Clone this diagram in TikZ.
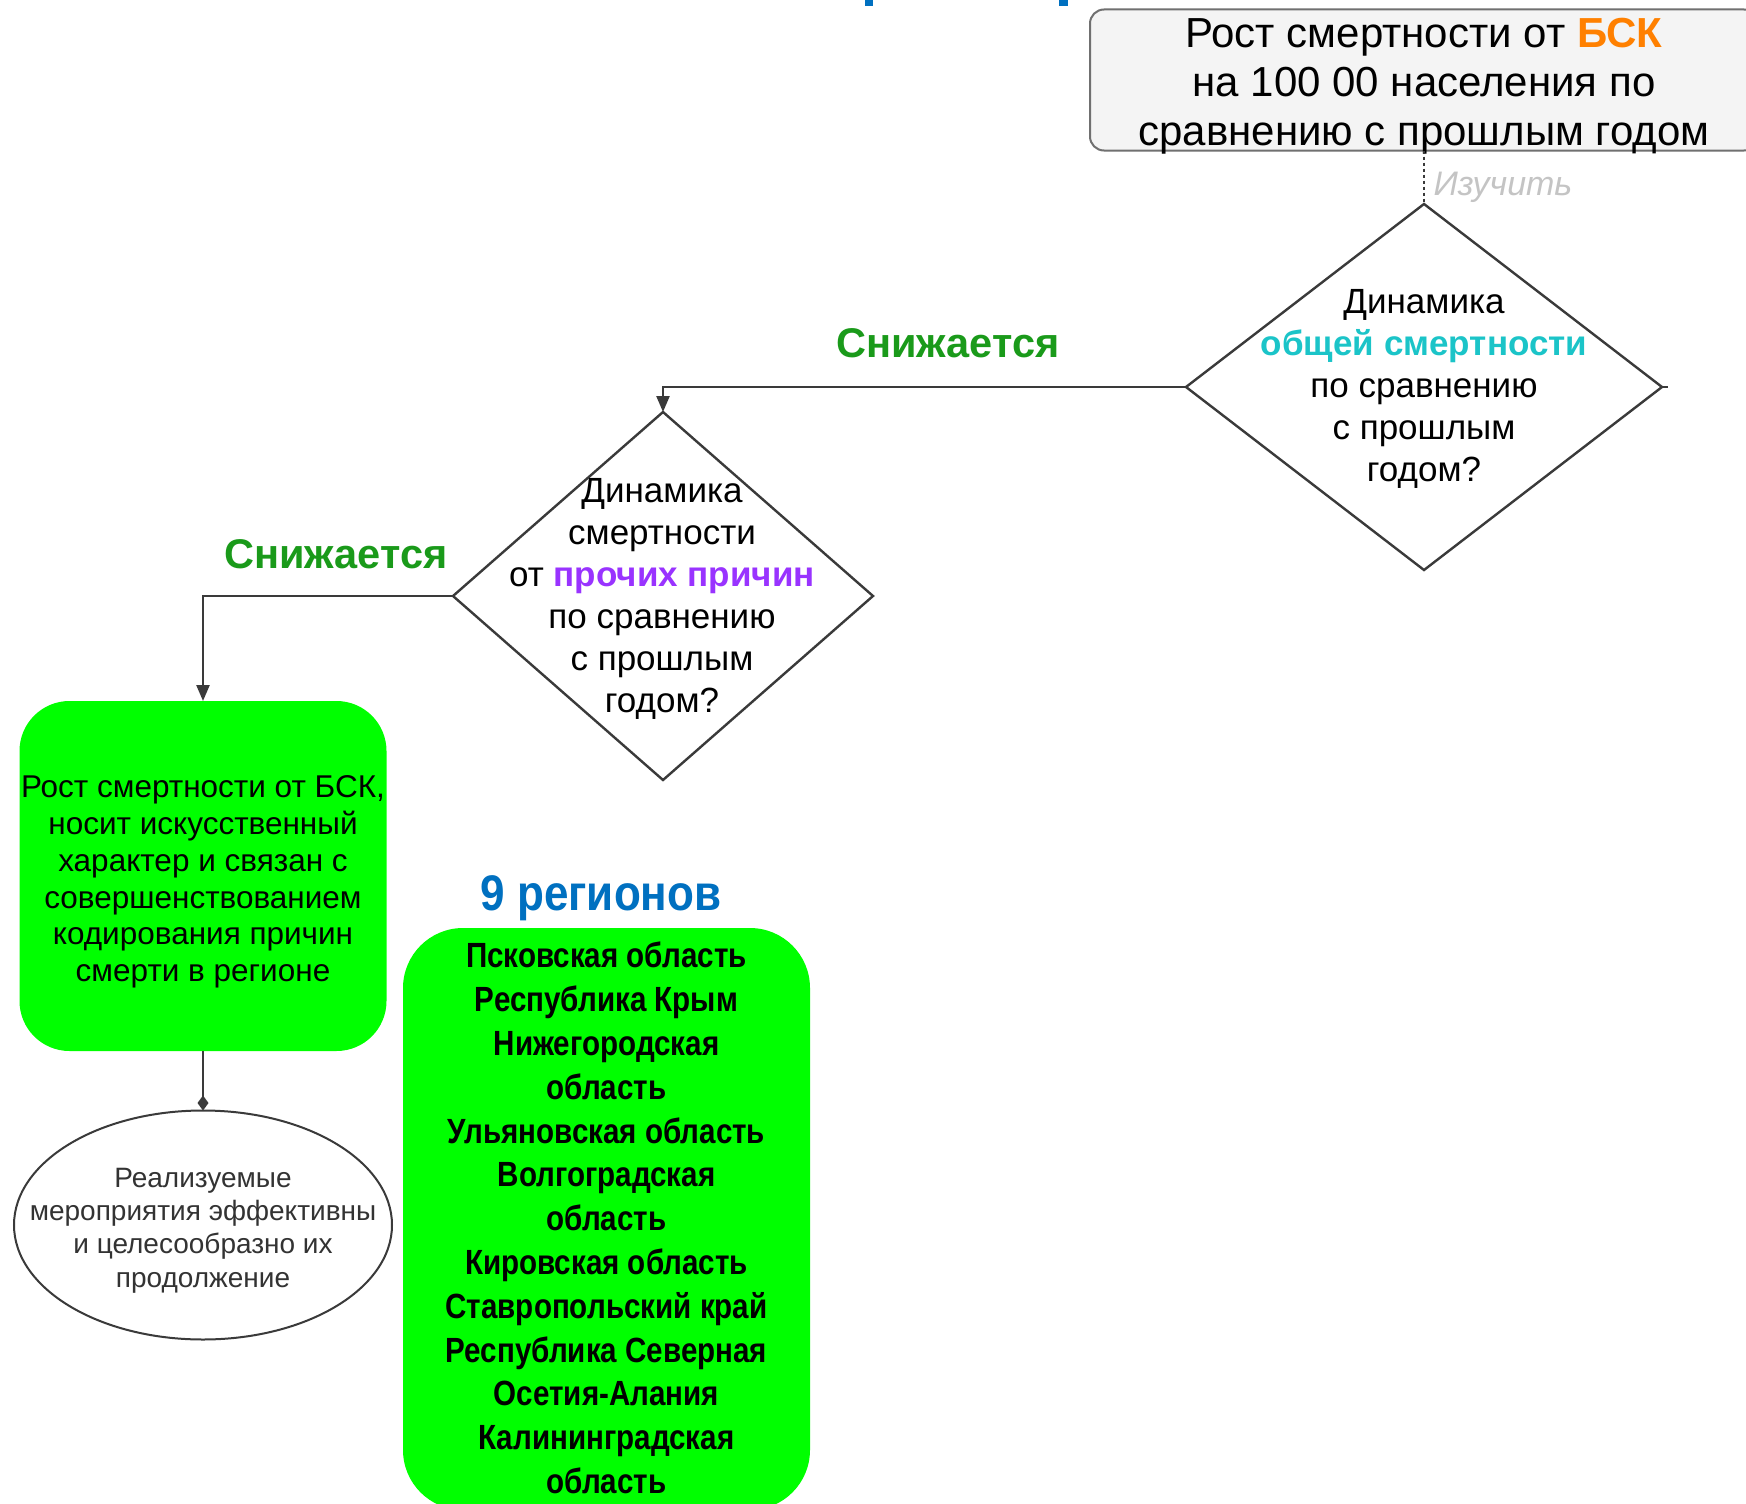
\documentclass[tikz,border=0pt]{standalone}
\usepackage{fontspec}
\setmainfont{Liberation Sans}
\newfontfamily\narrowsans[FakeStretch=0.845]{Liberation Sans}
\newfontfamily\titlesans[FakeStretch=0.88]{Liberation Sans}
\usetikzlibrary{shapes.geometric,arrows.meta,calc}
\definecolor{lblgreen}{HTML}{1A9A1A}
\definecolor{bskorange}{HTML}{FF8000}
\definecolor{obcyan}{HTML}{1BC4C8}
\definecolor{prpurple}{HTML}{9933FF}
\definecolor{regblue}{HTML}{0070C0}
\definecolor{brightgreen}{HTML}{00FF00}
\definecolor{boxgray}{HTML}{F4F4F4}
\definecolor{boxborder}{HTML}{707070}
\definecolor{studygray}{HTML}{C4C4C4}
\definecolor{linegray}{HTML}{3A3A3A}
\begin{document}
\begin{tikzpicture}[x=1pt,y=-1pt,
  conn/.style={draw=linegray, line width=2.4pt},
  arr/.style={conn, -{Triangle[length=16pt,width=13pt]}},
  dtip/.style={conn, -{Diamond[length=15pt,width=11pt]}},
  dia/.style={diamond, draw=linegray, line width=2.4pt, inner sep=0pt, outer sep=0pt, fill=white},
  qtext/.style={align=center, font=\fontsize{35}{42}\selectfont, inner sep=0pt},
  yeslabel/.style={text=lblgreen, font=\fontsize{41.5}{44}\selectfont\bfseries, inner sep=0pt},
  greenbox/.style={fill=brightgreen, draw=none, inner sep=0pt, outer sep=0pt}
]
\useasboundingbox (0,0) rectangle (1746,1504);
\fill[white] (0,0) rectangle (1746,1504);

% fragments of a title above the picture
\fill[regblue] (865,0) rectangle (873,6);
\fill[regblue] (1059,0) rectangle (1068,6);

% top box
\node[draw=boxborder, fill=boxgray, rounded corners=14pt, line width=2pt,
      minimum width=668pt, minimum height=141pt, inner sep=0pt, outer sep=0pt] (top) at (1424,80) {};
\node[align=center, font=\fontsize{42}{49}\selectfont, inner sep=0pt] (toptext) at (1424,86)
  {Рост смертности от \textcolor{bskorange}{\bfseries БСК}\\на 100 00 населения по\\сравнению с прошлым годом};

% diamond 1
\node[dia, minimum width=476pt, minimum height=366pt] (d1) at (1424,387) {};
\node[qtext] (d1t) at (1424,388.5)
  {Динамика\\\textcolor{obcyan}{\bfseries общей смертности}\\по сравнению\\с прошлым\\годом?};
\coordinate (d1stub) at ($(d1.east)+(6,0)$);

% dashed connector
\draw[draw=linegray, line width=2pt, dash pattern=on 3pt off 3pt] (top.south) -- (d1.north);
\node[text=studygray, font=\fontsize{34}{40}\selectfont\itshape, inner sep=0pt] (study) at (1503,187) {Изучить};

% diamond 2
\node[dia, minimum width=420pt, minimum height=368pt] (d2) at (663,596) {};
\node[qtext] (d2t) at (662,599)
  {Динамика\\смертности\\от \textcolor{prpurple}{\bfseries прочих причин}\\по сравнению\\с прошлым\\годом?};

% green box 1
\node[greenbox, rounded corners=50pt, minimum width=367pt, minimum height=350pt] (g1) at (203,876) {};
\node[align=center, font=\fontsize{31.5}{36.7}\selectfont, inner sep=0pt] (g1t) at (203,882)
  {Рост смертности от БСК,\\носит искусственный\\характер и связан с\\совершенствованием\\кодирования причин\\смерти в регионе};

% ellipse
\node[ellipse, draw=linegray, line width=2pt, minimum width=378pt, minimum height=229pt,
      inner sep=0pt, outer sep=0pt, fill=white] (ell) at (203,1225) {};
\node[align=center, text=black!80, font=\fontsize{28}{33.4}\selectfont, inner sep=0pt] (ellt) at (203,1230.5)
  {Реализуемые\\мероприятия эффективны\\и целесообразно их\\продолжение};

% regions
\node[text=regblue, font=\titlesans\bfseries\fontsize{50}{55}\selectfont, inner sep=0pt] (nine) at (601,898) {9 регионов};
\node[greenbox, rounded corners=60pt, minimum width=407pt, minimum height=582pt] (g2) at (606.5,1219) {};
\node[align=center, font=\narrowsans\bfseries\fontsize{35}{43.8}\selectfont, inner sep=0pt] (g2t) at (606.5,1218)
  {Псковская область\\Республика Крым\\Нижегородская\\область\\Ульяновская область\\Волгоградская\\область\\Кировская область\\Ставропольский край\\Республика Северная\\Осетия-Алания\\Калининградская\\область};

% connectors
\draw[arr] (d1.west) -| (d2.north);
\node[yeslabel] (yes1) at (948,343) {Снижается};
\draw[arr] (d2.west) -| (g1.north);
\node[yeslabel] (yes2) at (336,554) {Снижается};
\draw[dtip] (g1.south) -- (ell.north);
\draw[conn] (d1.east) -- (d1stub);
\end{tikzpicture}
\end{document}
